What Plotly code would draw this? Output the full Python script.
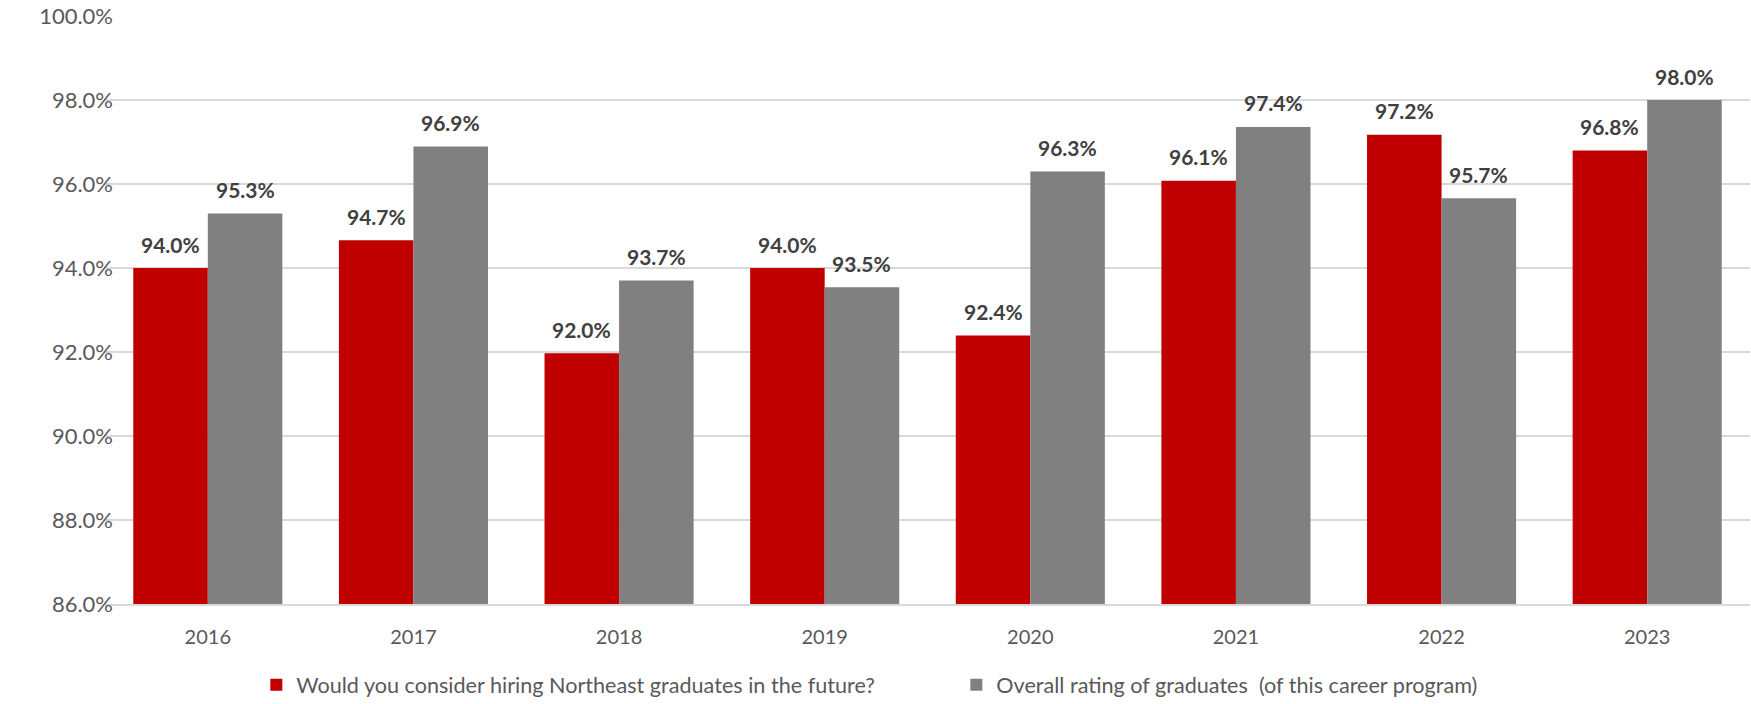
import plotly.graph_objects as go

years = [2016, 2017, 2018, 2019, 2020, 2021, 2022, 2023]
hire_values = [94.0, 94.66, 91.97, 94.0, 92.39, 96.08, 97.17, 96.8]
rating_values = [95.3, 96.89, 93.7, 93.54, 96.3, 97.36, 95.66, 98.0]
series_names = ["Would you consider hiring Northeast graduates in the future?",
                "Overall rating of graduates  (of this career program)"]
y_ticks = [86, 88, 90, 92, 94, 96, 98, 100]

RED = "#C00000"
GRAY = "#808080"
FONT = "Lato"
BARGAP = 0.275

fig = go.Figure()
fig.add_trace(go.Bar(x=years, y=hire_values, name=series_names[0],
                     marker=dict(color=RED, line=dict(width=0))))
fig.add_trace(go.Bar(x=years, y=rating_values, name=series_names[1],
                     marker=dict(color=GRAY, line=dict(width=0))))

off = (1 - BARGAP) / 4
annotations = []
for vals, sign in ((hire_values, -1), (rating_values, 1)):
    for yr, v in zip(years, vals):
        annotations.append(dict(x=yr + sign * off, y=v, xref="x", yref="y",
                                text=f"{v:.1f}%", showarrow=False,
                                yanchor="middle", yshift=24,
                                font=dict(family=FONT, size=21, color="#404040", weight="bold")))

fig.update_layout(
    width=1751, height=704,
    margin=dict(l=105, r=1, t=16, b=100, autoexpand=False),
    paper_bgcolor="white", plot_bgcolor="white",
    barmode="group", bargap=BARGAP, bargroupgap=0,
    annotations=annotations,
    font=dict(family=FONT, size=20, color="#595959"),
    legend=dict(orientation="h", x=0.092, xanchor="left", y=-0.138, yanchor="middle",
                font=dict(family=FONT, size=21.6, color="#595959"),
                entrywidth=655, entrywidthmode="pixels", traceorder="normal"),
    xaxis=dict(tickmode="array", tickvals=years, ticktext=[str(y) for y in years],
               range=[2015.5, 2023.5], showgrid=False, showline=True,
               linecolor="#d9d9d9", linewidth=2, ticks="", ticklabelstandoff=14,
               tickfont=dict(family=FONT, size=20, color="#595959")),
    yaxis=dict(range=[86, 100], tickmode="array", tickvals=y_ticks,
               ticktext=[f"{t:.1f}%" for t in y_ticks], showgrid=True,
               gridcolor="#d9d9d9", gridwidth=1.5, zeroline=False, showline=False,
               ticks="", ticklabelstandoff=-9,
               tickfont=dict(family=FONT, size=22, color="#595959")),
)

fig.write_html("out.html")
